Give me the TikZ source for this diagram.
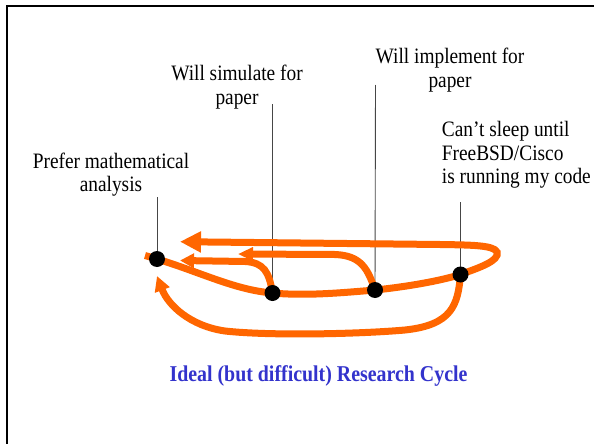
\documentclass[tikz,border=0pt]{standalone}
\usepackage{fontspec}
\setmainfont{Liberation Serif}[FakeStretch=0.88]
\usetikzlibrary{arrows.meta,backgrounds}
\definecolor{cyc}{RGB}{255,102,0}
\definecolor{ttl}{RGB}{51,51,204}
\definecolor{lead}{RGB}{70,70,70}
\tikzset{
  cycline/.style={draw=cyc, line width=7pt},
  dotnode/.style={circle, fill=black, inner sep=0pt, minimum size=16pt},
  leadline/.style={draw=lead, line width=0.9pt},
  lbl/.style={inner sep=0pt, font={\fontsize{22}{23.5}\selectfont}},
}
\begin{document}
\begin{tikzpicture}[x=1pt,y=-1pt]
\useasboundingbox (0,0) rectangle (594,444);
\clip (0,0) rectangle (594,444);
% frame
\draw[line width=2pt] (7.3,460) -- (7.3,6) -- (610,6);

% points
\coordinate (s) at (145,255.5);
\coordinate (t1) at (180,241.7);
\coordinate (t2) at (180,260.5);
\coordinate (t3) at (238,254);
\coordinate (t4) at (157,276);
\node[dotnode] (d1) at (157,259) {};
\node[dotnode] (d2) at (272.5,293) {};
\node[dotnode] (d3) at (375,290) {};
\node[dotnode] (d4) at (460.5,274.5) {};

% labels
\node[lbl, align=center, anchor=north] (L1) at (111,152.5) {Prefer mathematical\\analysis};
\node[lbl, align=center, anchor=north] (L2) at (237,65) {Will simulate for\\paper};
\node[lbl, align=center, anchor=north] (L3) at (450,48) {Will implement for\\paper};
\node[lbl, align=left, anchor=north west] (L4) at (441.7,121.5) {Can’t sleep until\\FreeBSD/Cisco\\is running my code};
\node[inner sep=0pt, anchor=base, text=ttl, font={\fontsize{22.6}{24}\selectfont\bfseries}] (T) at (318.5,381.7) {Ideal (but difficult) Research Cycle};

% leader lines
\coordinate (p1) at (157,197);
\coordinate (p2) at (272.5,104);
\coordinate (p3) at (375.5,85);
\coordinate (p4) at (460.5,202);

\begin{scope}[on background layer]
\draw[leadline] (p1) -- (d1.center);
\draw[leadline] (p2) -- (d2.center);
\draw[leadline] (p3) -- (d3.center);
\draw[leadline] (p4) -- (d4.center);

% cycle lines
\draw[cycline] (s) -- (d1.center)
   .. controls (200,272) and (235,290) .. (d2.center)
   .. controls (305,296) and (340,293) .. (d3.center)
   .. controls (405,287) and (440,281) .. (d4.center);
\draw[cycline, -{Triangle[length=21pt,width=20pt]}] (d4.center)
   .. controls (478,268) and (500,261) .. (497,252)
   .. controls (494,245) and (470,245) .. (440,244.5) -- (t1);
\draw[cycline, -{Triangle[length=14pt,width=14pt]}] (d2.center)
   .. controls (269,272) and (264,262.5) .. (245,261.5) -- (t2);
\draw[cycline, -{Triangle[length=15pt,width=13pt]}] (d3.center)
   .. controls (368,270) and (362,255.5) .. (335,254.5) -- (t3);
\draw[cycline, -{Triangle[length=15pt,width=15pt]}] (d4.center)
   .. controls (458,305) and (452,325) .. (405,330)
   .. controls (360,334) and (270,336) .. (225,331)
   .. controls (190,326) and (168,305) .. (t4);
\end{scope}
\end{tikzpicture}
\end{document}
